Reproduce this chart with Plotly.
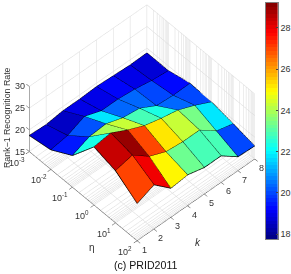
import plotly.graph_objects as go
import numpy as np

# axis values
eta_exp = [-3, -2, -1, 0, 1, 2]
k_vals = [1, 2, 3, 4, 5, 6, 7, 8]
eta_ticktext = ["10<sup>-3</sup>", "10<sup>-2</sup>", "10<sup>-1</sup>", "10<sup>0</sup>", "10<sup>1</sup>", "10<sup>2</sup>"]
z_ticks = [15, 20, 25, 30]
cbar_ticks = [18, 20, 22, 24, 26, 28]

# rank-1 rate per eta row (k = 1..8)
rate_e3 = [18.7, 18.5, 19.0, 19.0, 19.2, 19.0, 18.8, 18.9]
rate_e2 = [19.5, 20.1, 21.8, 20.4, 20.4, 20.0, 19.3, 18.9]
rate_e1 = [22.3, 23.9, 24.2, 22.9, 22.4, 20.3, 20.0, 20.1]
rate_e0 = [28.4, 28.9, 26.9, 25.2, 24.2, 23.4, 21.8, 19.9]
rate_p1 = [27.0, 27.9, 24.9, 23.3, 22.9, 22.9, 20.0, 19.0]
rate_p2 = [23.6, 25.2, 21.7, 22.1, 21.1, 21.1, 18.2, 18.0]
Z = np.array([rate_e3, rate_e2, rate_e1, rate_e0, rate_p1, rate_p2])

CMIN, CMAX = 17.77, 29.2
TXT = "#333333"
FONT = "Liberation Sans"


def jet(t):
    r = np.clip(min(4 * t - 1.5, -4 * t + 4.5), 0, 1)
    g = np.clip(min(4 * t - 0.5, -4 * t + 3.5), 0, 1)
    b = np.clip(min(4 * t + 0.5, -4 * t + 2.5), 0, 1)
    return f"rgb({int(r*255)},{int(g*255)},{int(b*255)})"


N = 64
scale = []
for n in range(N):
    c = jet((n + 0.5) / N)
    scale += [[n / N, c], [(n + 1) / N, c]]

ni, nj = Z.shape
X, Y = np.meshgrid(eta_exp, k_vals, indexing="ij")
I, J, K, cell = [], [], [], []
for a in range(ni - 1):
    for b in range(nj - 1):
        p = a * nj + b
        q = p + 1
        r = (a + 1) * nj + b
        s = r + 1
        I += [p, p]
        J += [q, s]
        K += [s, r]
        cell += [Z[a, b], Z[a, b]]

fig = go.Figure()

x0, x1 = eta_exp[0], eta_exp[-1]
y0, y1 = k_vals[0], k_vals[-1]
z0, z1 = z_ticks[0], z_ticks[-1]

# box grid (log minor lines on eta)
gx, gy, gz = [], [], []
eta_lines = [d + np.log10(m) for d in eta_exp[:-1] for m in range(1, 10)] + [x1]
for e in eta_lines:
    gx += [e, e, e, None]
    gy += [y0, y1, y1, None]
    gz += [z0, z0, z1, None]
for kv in k_vals:
    gx += [x1, x0, x0, None]
    gy += [kv, kv, kv, None]
    gz += [z0, z0, z1, None]
for zv in z_ticks[1:]:
    gx += [x1, x0, x0, None]
    gy += [y1, y1, y0, None]
    gz += [zv, zv, zv, None]
fig.add_trace(go.Scatter3d(x=gx, y=gy, z=gz, mode="lines", hoverinfo="skip", showlegend=False,
                           line=dict(color="#dcdcdc", width=1)))

# axis lines and tick marks
TE, TK, TZ = 0.14, 0.2, 0.4
ax_x = [x0, x1, None, x1, x1, None, x0, x0, None]
ax_y = [y0, y0, None, y0, y1, None, y0, y0, None]
ax_z = [z0, z0, None, z0, z0, None, z0, z1, None]
for e in eta_exp:
    ax_x += [e, e, None]
    ax_y += [y0, y0 - TK, None]
    ax_z += [z0, z0, None]
for kv in k_vals:
    ax_x += [x1, x1 + TE, None]
    ax_y += [kv, kv, None]
    ax_z += [z0, z0, None]
for zv in z_ticks:
    ax_x += [x0, x0 - TE, None]
    ax_y += [y0, y0, None]
    ax_z += [zv, zv, None]
fig.add_trace(go.Scatter3d(x=ax_x, y=ax_y, z=ax_z, mode="lines", hoverinfo="skip", showlegend=False,
                           line=dict(color="#555555", width=1)))

fig.add_trace(go.Mesh3d(x=X.ravel(), y=Y.ravel(), z=Z.ravel(), i=I, j=J, k=K,
                        intensity=cell, intensitymode="cell", colorscale=scale, cmin=CMIN, cmax=CMAX,
                        flatshading=True, hoverinfo="skip", showscale=False,
                        lighting=dict(ambient=1, diffuse=0, specular=0, fresnel=0, roughness=1)))

# black mesh edges
lx, ly, lz = [], [], []
for a in range(ni):
    lx += list(X[a, :]) + [None]
    ly += list(Y[a, :]) + [None]
    lz += list(Z[a, :]) + [None]
for b in range(nj):
    lx += list(X[:, b]) + [None]
    ly += list(Y[:, b]) + [None]
    lz += list(Z[:, b]) + [None]
fig.add_trace(go.Scatter3d(x=lx, y=ly, z=lz, mode="lines", hoverinfo="skip", showlegend=False,
                           line=dict(color="#000000", width=1.5)))

# colour bar as a heat strip on its own axes
levels = [CMIN + (n + 0.5) * (CMAX - CMIN) / N for n in range(N)]
fig.add_trace(go.Heatmap(z=[[v] for v in levels], x=[0], y=levels, colorscale=scale, zmin=CMIN, zmax=CMAX,
                         showscale=False, hoverinfo="skip", xaxis="x2", yaxis="y2"))


def ax(rng):
    return dict(range=rng, visible=False, showspikes=False)


def lab(x, y, z, text, dx, dy):
    return dict(x=x, y=y, z=z, text=text, showarrow=False, xshift=dx, yshift=-dy,
                font=dict(family=FONT, size=9, color=TXT))


tick_labels = []
for e, t in zip(eta_exp, eta_ticktext):
    tick_labels.append(lab(e, y0, z0, t, -12, 10))
for kv in k_vals:
    tick_labels.append(lab(x1, kv, z0, str(kv), 7, 9))
for zv in z_ticks:
    tick_labels.append(lab(x0, y0, zv, str(zv), -9, 0))

S = 0.728
C = dict(x=0.017, y=0.019, z=-0.16)
E = 3.0
xr = [x0 - 0.2, x1 + 0.2]
yr = [y0 - 0.3, y1 + 0.3]
zr = [z0 - 0.5, z1 + 0.5]


def note(text, px, py, size=9, angle=0, color=TXT):
    return dict(text=text, x=px / 291, y=1 - py / 274, xref="paper", yref="paper", showarrow=False,
                xanchor="center", yanchor="middle", textangle=angle,
                font=dict(family=FONT, size=size, color=color))


fig.update_layout(
    width=291, height=274, autosize=False, margin=dict(l=0, r=0, t=0, b=0),
    paper_bgcolor="white", plot_bgcolor="white",
    scene=dict(
        domain=dict(x=[0, 1], y=[0, 1]),
        xaxis=ax(xr), yaxis=ax(yr), zaxis=ax(zr),
        aspectmode="manual",
        aspectratio=dict(x=1.6 * S * (xr[1] - xr[0]) / (x1 - x0),
                         y=1.6 * S * (yr[1] - yr[0]) / (y1 - y0),
                         z=1.0 * S * (zr[1] - zr[0]) / (z1 - z0)),
        annotations=tick_labels,
        camera=dict(projection=dict(type="orthographic"), up=dict(x=0, y=0, z=1), center=C,
                    eye=dict(x=0.481 * E + C["x"], y=-0.441 * E + C["y"], z=0.758 * E + C["z"])),
    ),
    xaxis2=dict(domain=[266 / 291, 277.7 / 291], anchor="y2", showticklabels=False, ticks="", showgrid=False,
                zeroline=False, showline=True, mirror=True, linecolor="#808080", linewidth=1),
    yaxis2=dict(domain=[1 - 239 / 274, 1 - 3 / 274], anchor="x2", side="right", range=[CMIN, CMAX],
                tickvals=cbar_ticks, ticks="inside", ticklen=2, tickcolor="#444444", showgrid=False, zeroline=False,
                showline=True, mirror=True, linecolor="#808080", linewidth=1,
                tickfont=dict(family=FONT, size=9, color=TXT)),
    annotations=[
        note("(c) PRID2011", 145, 265, size=10.6, color="#111111"),
        note("Rank−1 Recognition Rate", 7, 118, size=8.8, angle=-90),
        note("<i>k</i>", 198, 242, size=10),
        note("η", 92, 247, size=10),
    ],
)
fig.write_html("out.html", post_script="document.body.style.margin='0';", config={"displayModeBar": False})
